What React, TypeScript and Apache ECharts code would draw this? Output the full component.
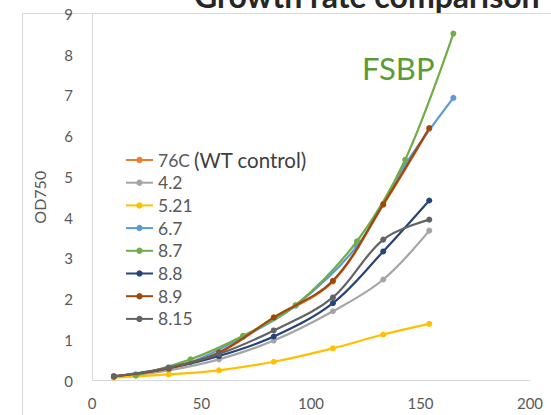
import React, { useEffect, useRef } from "react";
import * as echarts from "echarts";

const timesA = [10, 35, 58, 83, 110, 133, 154];
const timesB = [20, 45, 69, 93, 121, 143, 165];

const seriesNames = ["76C", "4.2", "5.21", "6.7", "8.7", "8.8", "8.9", "8.15"];
const seriesColors = ["#ED7D31", "#A5A5A5", "#FFC000", "#5B9BD5", "#70AD47", "#264478", "#9E480E", "#636363"];

const v76C = [0.1, 0.3, 0.68, 1.53, 2.43, 4.31, 6.18];
const v42 = [0.08, 0.25, 0.52, 0.98, 1.7, 2.48, 3.68];
const v521 = [0.07, 0.15, 0.25, 0.46, 0.79, 1.13, 1.39];
const v67 = [0.15, 0.45, 1.07, 1.84, 3.3, 5.3, 6.94];
const v87 = [0.12, 0.52, 1.1, 1.85, 3.42, 5.42, 8.52];
const v88 = [0.1, 0.3, 0.6, 1.08, 1.9, 3.17, 4.42];
const v89 = [0.1, 0.3, 0.69, 1.55, 2.45, 4.33, 6.2];
const v815 = [0.1, 0.32, 0.65, 1.23, 2.04, 3.46, 3.95];

const seriesValues = [v76C, v42, v521, v67, v87, v88, v89, v815];
const seriesTimes = [timesA, timesA, timesA, timesB, timesB, timesA, timesA, timesA];

const xTicks = [0, 50, 100, 150, 200];
const yTicks = [0, 1, 2, 3, 4, 5, 6, 7, 8, 9];

const FONT = "Lato";

export default function App() {
  const ref = useRef<HTMLDivElement>(null);
  useEffect(() => {
    if (!ref.current) return;
    const chart = echarts.init(ref.current, undefined, { renderer: "svg" });
    const series = seriesNames.map((name, i) => ({
      name,
      type: "line",
      smooth: 0.35,
      symbol: "circle",
      symbolSize: 6,
      showSymbol: true,
      data: seriesValues[i].map((v, j) => [seriesTimes[i][j], v]),
      lineStyle: { width: 2.2, color: seriesColors[i] },
      itemStyle: { color: seriesColors[i] },
      z: 2 + i,
    }));
    chart.setOption({
      animation: false,
      backgroundColor: "#ffffff",
      grid: { left: 92, right: 21, top: 14, bottom: 34.5 },
      xAxis: {
        type: "value",
        min: xTicks[0],
        max: xTicks[xTicks.length - 1],
        interval: 50,
        axisLine: { show: true, lineStyle: { color: "#d9d9d9", width: 1 } },
        axisTick: { show: false },
        splitLine: { show: false },
        axisLabel: { color: "#595959", fontSize: 15, fontFamily: FONT, margin: 15 },
      },
      yAxis: {
        type: "value",
        min: yTicks[0],
        max: yTicks[yTicks.length - 1],
        interval: 1,
        name: "OD750",
        nameLocation: "middle",
        nameRotate: 90,
        nameGap: 45,
        nameTextStyle: { color: "#595959", fontSize: 16, fontFamily: FONT },
        axisLine: { show: true, lineStyle: { color: "#d9d9d9", width: 1 } },
        axisTick: { show: false },
        splitLine: { show: false },
        axisLabel: { color: "#595959", fontSize: 15, fontFamily: FONT, margin: 19 },
      },
      legend: {
        orient: "vertical",
        left: 120,
        top: 146,
        itemWidth: 27,
        itemHeight: 8,
        itemGap: 4.7,
        data: seriesNames,
        textStyle: { color: "#595959", fontSize: 17.5, fontFamily: FONT, lineHeight: 16 },
      },
      graphic: [
        { type: "line", shape: { x1: 22, y1: 13.5, x2: 551, y2: 13.5 }, style: { stroke: "#d9d9d9", lineWidth: 1 }, silent: true },
        { type: "line", shape: { x1: 22.5, y1: 13, x2: 22.5, y2: 415 }, style: { stroke: "#d9d9d9", lineWidth: 1 }, silent: true },
        {
          type: "text",
          x: 194,
          y: -5,
          style: { text: "Growth rate comparison", fill: "#262626", font: `bold 32px ${FONT}`, verticalAlign: "middle", align: "left" },
        },
        {
          type: "text",
          x: 362,
          y: 68,
          style: { text: "FSBP", fill: "#5B9B35", font: `31px ${FONT}`, verticalAlign: "middle", align: "left" },
        },
        {
          type: "text",
          x: 194,
          y: 160,
          style: { text: "(WT control)", fill: "#404040", font: `20.5px ${FONT}`, verticalAlign: "middle", align: "left" },
        },
      ],
      series,
    });
    return () => chart.dispose();
  }, []);
  return <div ref={ref} style={{ position: "fixed", left: 0, top: 0, width: 551, height: 415 }} />;
}
